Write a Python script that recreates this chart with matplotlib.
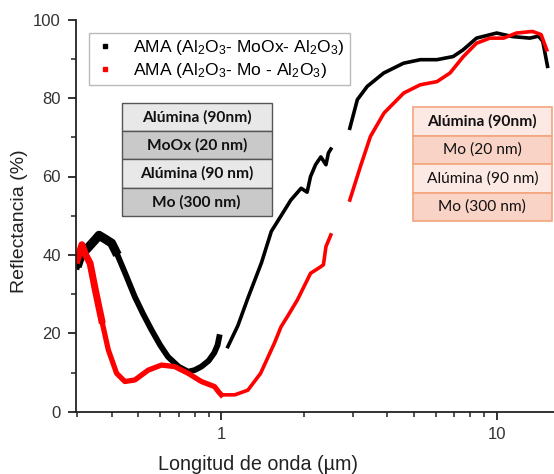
import matplotlib
matplotlib.use("Agg")
import matplotlib.pyplot as plt
from matplotlib.lines import Line2D
from matplotlib.ticker import LogLocator, NullFormatter, FixedLocator, FixedFormatter, MultipleLocator

plt.rcParams['font.family'] = ['Liberation Sans', 'DejaVu Sans']
plt.rcParams['mathtext.fontset'] = 'custom'
plt.rcParams['mathtext.rm'] = 'Liberation Sans'
plt.rcParams['mathtext.it'] = 'Liberation Sans'

# ---- data (wavelength in um, reflectance in %) ----
black1_x = [0.300, 0.31, 0.33, 0.35, 0.36, 0.38, 0.40, 0.42, 0.45, 0.485, 0.52, 0.558, 0.60,
            0.641, 0.70, 0.758, 0.80, 0.847, 0.90, 0.943, 0.97, 0.983]
black1_y = [37, 40, 42, 44, 45, 44, 43, 40, 35, 29.4, 25, 20.9, 17,
            14, 11.5, 10.2, 10.6, 11.5, 13, 15, 17, 19]
black2_x = [1.057, 1.15, 1.25, 1.40, 1.52, 1.65, 1.79, 1.95, 2.05, 2.11, 2.2, 2.3, 2.4, 2.45, 2.50]
black2_y = [16.6, 22, 29, 38, 46, 50, 54, 57, 56, 60, 63, 65, 63, 66, 67]
black3_x = [2.93, 3.12, 3.39, 3.89, 4.59, 5.28, 6.07, 6.95, 7.55, 8.45, 10.0, 11.4, 13.2, 14.2, 14.7, 15.3]
black3_y = [72.3, 79.6, 83.0, 86.4, 88.9, 89.8, 89.8, 90.6, 92.3, 95.3, 96.6, 95.7, 95.3, 95.8, 94.5, 88.1]

red1_x = [0.300, 0.312, 0.322, 0.334, 0.349, 0.368, 0.389, 0.417, 0.447, 0.486, 0.543, 0.607,
          0.678, 0.758, 0.847, 0.946, 0.98, 1.0, 1.12, 1.25, 1.39, 1.56, 1.65, 1.74, 1.89,
          2.11, 2.30, 2.35, 2.40, 2.50]
red1_y = [38.7, 42.6, 40, 37.9, 31.1, 23.4, 15.8, 9.8, 7.7, 8.1, 10.6, 11.9,
          11.5, 9.8, 7.7, 6.4, 5, 4.3, 4.3, 5.5, 9.8, 17.5, 21.7, 24.3, 28.5,
          35.3, 37.0, 37.5, 42.1, 45.1]
red2_x = [2.93, 3.20, 3.48, 3.90, 4.60, 5.28, 6.07, 6.77, 7.57, 8.45, 9.45, 10.6, 11.8, 13.5, 14.5, 15.2]
red2_y = [54.0, 62.5, 70.2, 76.2, 81.3, 83.4, 84.2, 86.4, 90.6, 94.0, 95.3, 95.3, 96.6, 97.0, 96.2, 92.3]

series_labels = [r'AMA (Al$_2$O$_3$- MoOx- Al$_2$O$_3$)', r'AMA (Al$_2$O$_3$- Mo - Al$_2$O$_3$)']

table1_rows = ['Alúmina (90nm)', 'MoOx (20 nm)', 'Alúmina (90 nm)', 'Mo (300 nm)']
table2_rows = ['Alúmina (90nm)', 'Mo (20 nm)', 'Alúmina (90 nm)', 'Mo (300 nm)']

x_ticks = [1, 10]
x_ticklabels = ['1', '10']
y_ticks = [0, 20, 40, 60, 80, 100]

# ---- figure ----
W, H = 554, 474
fig = plt.figure(figsize=(W / 100, H / 100), dpi=100)
L, R, T, B = 76, 554, 19.7, 411.7
ax = fig.add_axes([L / W, 1 - B / H, (R - L) / W, (B - T) / H])

ax.set_xscale('log')
ax.set_xlim(0.297, 16.15)
ax.set_ylim(0, 100)

# noisy band parts (thicker) then main curves
n_b = 8
ax.plot(black1_x[:n_b], black1_y[:n_b], color='black', lw=6.5, solid_capstyle='butt')
ax.plot(black1_x, black1_y, color='black', lw=4.2)
ax.plot(black2_x, black2_y, color='black', lw=2.6)
ax.plot(black3_x, black3_y, color='black', lw=2.6)

ax.plot(red1_x[:6], red1_y[:6], color='#ff0000', lw=5)
ax.plot(red1_x[:18], red1_y[:18], color='#ff0000', lw=3.8)
ax.plot(red1_x, red1_y, color='#ff0000', lw=2.6)
ax.plot(red2_x, red2_y, color='#ff0000', lw=2.6)

# axes styling
for s in ['top', 'right']:
    ax.spines[s].set_visible(False)
for s in ['left', 'bottom']:
    ax.spines[s].set_linewidth(1.3)
    ax.spines[s].set_color('#222222')
ax.xaxis.set_major_locator(FixedLocator(x_ticks))
ax.xaxis.set_major_formatter(FixedFormatter(x_ticklabels))
ax.xaxis.set_minor_locator(LogLocator(base=10, subs=range(2, 10), numticks=20))
ax.xaxis.set_minor_formatter(NullFormatter())
ax.yaxis.set_major_locator(FixedLocator(y_ticks))
ax.yaxis.set_minor_locator(MultipleLocator(10))
ax.tick_params(which='major', direction='out', length=6, width=1.3, labelsize=12,
               color='#222222', labelcolor='#333333', pad=5)
ax.tick_params(which='minor', direction='out', length=3.5, width=1.1, color='#222222')

ax.set_xlabel('Longitud de onda (µm)', fontsize=14.2, color='#222222')
ax.set_ylabel('Reflectancia (%)', fontsize=14, color='#222222')
ax.xaxis.set_label_coords((258.5 - L) / (R - L), (B - 464) / (B - T))
ax.xaxis.label.set_va('center')
ax.yaxis.set_label_coords((20 - L) / (R - L), (B - 221) / (B - T))
ax.yaxis.label.set_va('center')

# legend
handles = [Line2D([], [], color='black', marker='s', markersize=3.2, lw=0),
           Line2D([], [], color='#ff0000', marker='s', markersize=3.2, lw=0)]
leg = fig.legend(handles, series_labels, loc='upper left',
                 bbox_to_anchor=(89 / W, 1 - 32.5 / H), fontsize=12.6, frameon=True,
                 fancybox=False, edgecolor='#aaaaaa', borderpad=0.3, handlelength=1.2,
                 handletextpad=1.0, labelspacing=0.25, borderaxespad=0)
leg.get_frame().set_linewidth(1.0)


def ax_box(px0, px1, py0, py1):
    x0 = (px0 - L) / (R - L)
    x1 = (px1 - L) / (R - L)
    y0 = (B - py1) / (B - T)
    y1 = (B - py0) / (B - T)
    return [x0, y0, x1 - x0, y1 - y0]


# gray table
t1 = ax.table(cellText=[[r] for r in table1_rows], bbox=ax_box(121.7, 271.7, 102.7, 216),
              cellLoc='center')
t1.auto_set_font_size(False)
for i, r in enumerate(table1_rows):
    c = t1[i, 0]
    c.set_facecolor('#e8e8e8' if i % 2 == 0 else '#c9c9c9')
    c.set_edgecolor('#555555')
    c.set_linewidth(1.0)
    c.get_text().set_fontsize(11.2)
    c.get_text().set_fontweight('bold')
    c.get_text().set_fontfamily(['Lato', 'DejaVu Sans'])
    c.get_text().set_color('#111111')

# salmon table
t2 = ax.table(cellText=[[r] for r in table2_rows], bbox=ax_box(412.7, 552, 107.3, 221),
              cellLoc='center')
t2.auto_set_font_size(False)
for i, r in enumerate(table2_rows):
    c = t2[i, 0]
    c.set_facecolor('#fde9e3' if i % 2 == 0 else '#f9d3c6')
    c.set_edgecolor('#f4a57c')
    c.set_linewidth(1.2)
    c.get_text().set_fontsize(11.2)
    c.get_text().set_fontfamily(['Lato', 'DejaVu Sans'])
    c.get_text().set_color('#111111')
    if i == 0:
        c.get_text().set_fontweight('bold')

fig.savefig('out.png', dpi=100)
